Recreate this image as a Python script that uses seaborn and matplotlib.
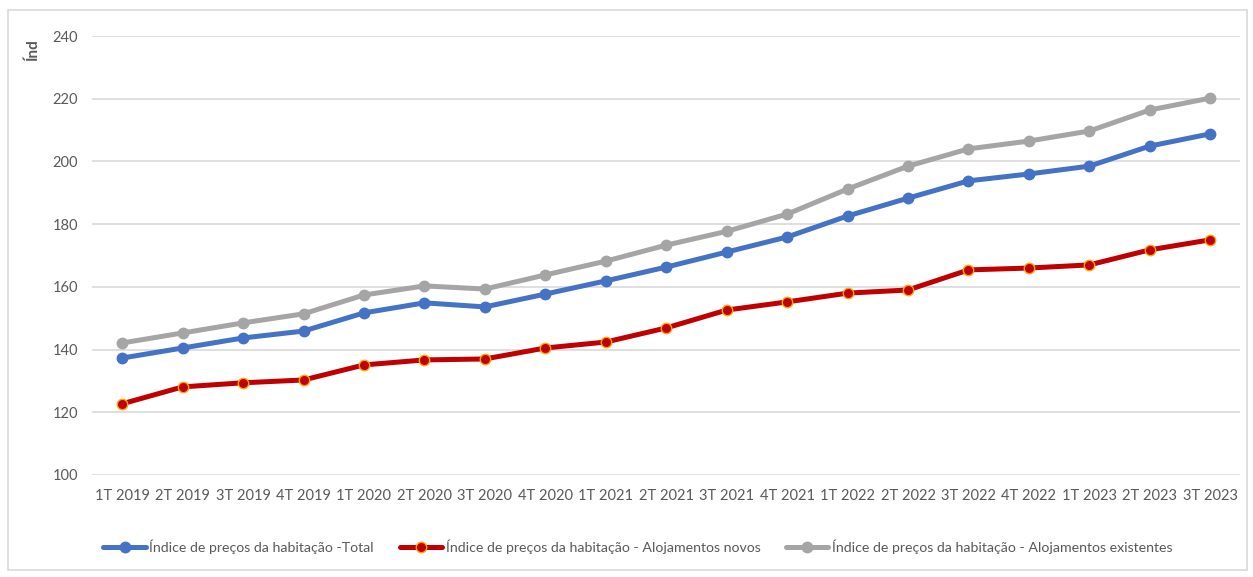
import pandas as pd
import matplotlib.pyplot as plt
import matplotlib.patches as mpatches
import seaborn as sns

quarters = ['1T 2019', '2T 2019', '3T 2019', '4T 2019',
            '1T 2020', '2T 2020', '3T 2020', '4T 2020',
            '1T 2021', '2T 2021', '3T 2021', '4T 2021',
            '1T 2022', '2T 2022', '3T 2022', '4T 2022',
            '1T 2023', '2T 2023', '3T 2023']

total = [137.3, 140.5, 143.7, 145.9, 151.7, 154.9, 153.6, 157.7, 161.9, 166.3,
         171.1, 175.9, 182.6, 188.3, 193.8, 196.0, 198.5, 204.9, 208.8]
novos = [122.7, 128.1, 129.4, 130.3, 135.1, 136.7, 137.0, 140.5, 142.4, 146.9,
         152.6, 155.2, 158.0, 159.0, 165.4, 166.0, 167.0, 171.8, 175.0]
existentes = [142.1, 145.3, 148.5, 151.4, 157.4, 160.3, 159.3, 163.8, 168.2, 173.3,
              177.7, 183.2, 191.2, 198.5, 204.0, 206.5, 209.7, 216.4, 220.2]

series_names = ['Índice de preços da habitação -Total',
                'Índice de preços da habitação - Alojamentos novos',
                'Índice de preços da habitação - Alojamentos existentes']
colors = ['#4472C4', '#C00000', '#A5A5A5']
edge_colors = ['#4472C4', '#FFA500', '#A5A5A5']

sns.set_style('white')
plt.rcParams['font.family'] = ['Lato', 'DejaVu Sans']

fig = plt.figure(figsize=(12.53, 5.77), dpi=100)
ax = fig.add_axes([0.0734, 0.1768, 0.9166, 0.7608])

for name, vals, col, ec in zip(series_names, [total, novos, existentes], colors, edge_colors):
    df = pd.DataFrame({'x': range(len(quarters)), 'y': vals})
    sns.lineplot(data=df, x='x', y='y', ax=ax, color=col, linewidth=3.6,
                 marker='o', markersize=7.5, markeredgecolor=ec, markeredgewidth=1.0,
                 label=name)

ax.set_xlim(-0.5, len(quarters) - 0.5)
ax.set_ylim(100, 240)
ax.set_yticks(range(100, 241, 20))
ax.set_xticks(range(len(quarters)))
ax.set_xticklabels(quarters)
ax.tick_params(axis='both', labelsize=10.5, colors='#595959', length=0, pad=10)
ax.yaxis.grid(True, color='#D9D9D9', linewidth=1.2)
ax.set_axisbelow(True)
for s in ax.spines.values():
    s.set_visible(False)
ax.set_xlabel('')
ax.set_ylabel('')

fig.text(0.026, 0.915, 'Índ', rotation=90, fontsize=11, color='#595959',
         fontweight='bold', ha='center', va='center')

handles, labels = ax.get_legend_handles_labels()
ax.legend(handles, labels, loc='upper left', bbox_to_anchor=(0.005, -0.135), ncol=3,
          frameon=False, fontsize=10.2, labelcolor='#595959', handlelength=3.0,
          handletextpad=0.25, columnspacing=1.8, borderaxespad=0)

fig.patches.append(mpatches.Rectangle((0.006, 0.012), 0.989, 0.97, transform=fig.transFigure,
                                      fill=False, edgecolor='#D9D9D9', linewidth=1.2))

fig.savefig('out.png', dpi=100)
